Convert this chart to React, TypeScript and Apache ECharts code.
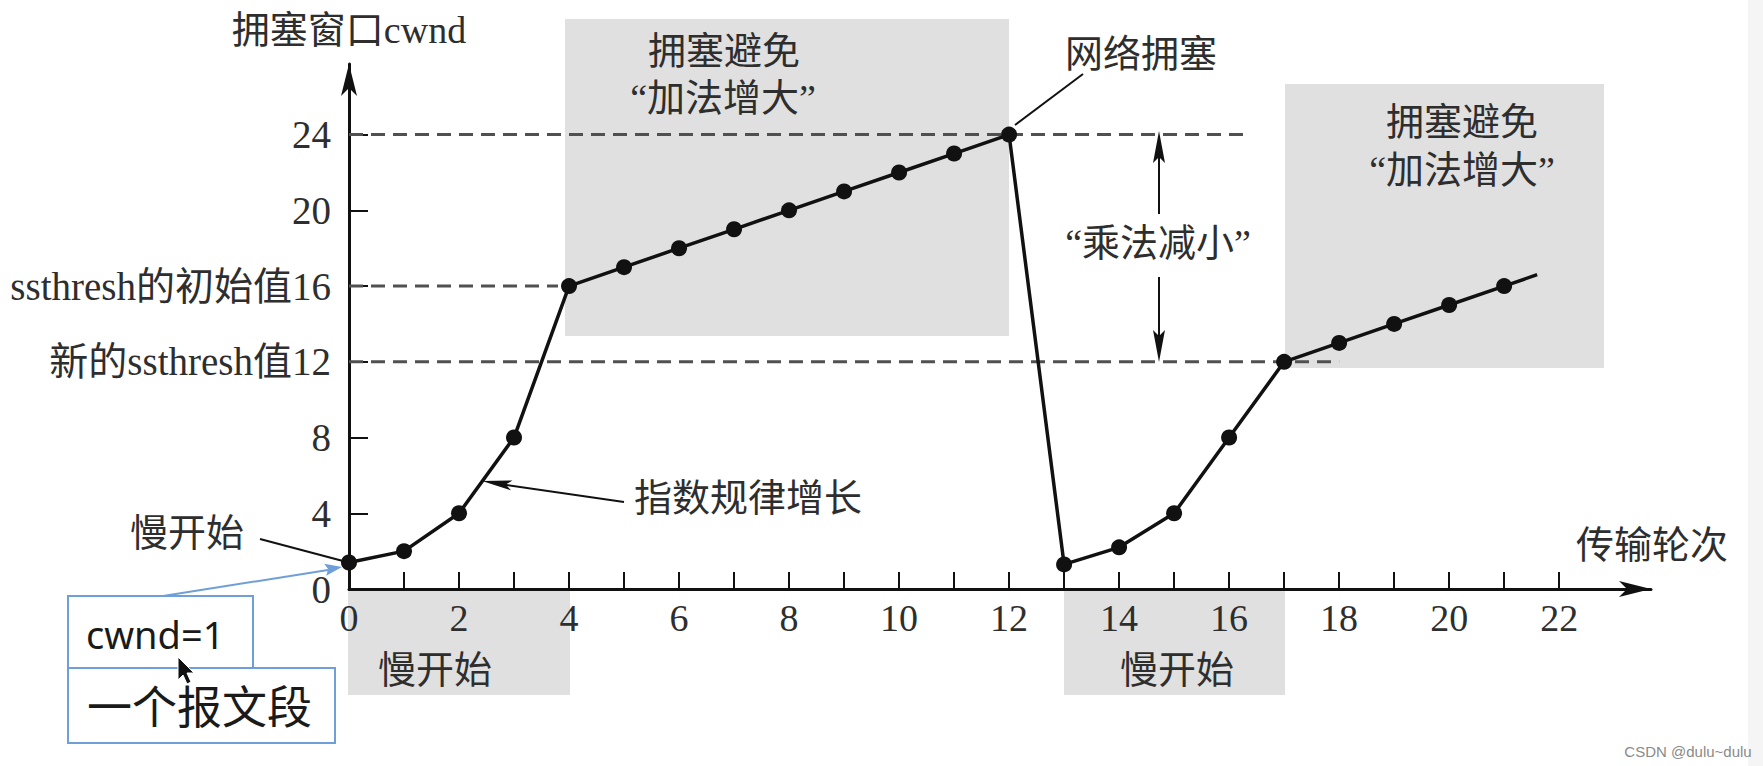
import React, { useEffect, useRef } from 'react';
import * as echarts from 'echarts';

// ---- data ----
const rounds = [0, 1, 2, 3, 4, 5, 6, 7, 8, 9, 10, 11, 12, 13, 14, 15, 16, 17, 18, 19, 20, 21];
const cwnd = [1.4, 2, 4, 8, 16, 17, 18, 19, 20, 21, 22, 23, 24, 1.3, 2.2, 4, 8, 12, 13, 14, 15, 16];
const tailRound = 21.6;
const tailCwnd = 16.6;

const xTickValues = [0, 1, 2, 3, 4, 5, 6, 7, 8, 9, 10, 11, 12, 13, 14, 15, 16, 17, 18, 19, 20, 21, 22];
const xLabelValues = [0, 2, 4, 6, 8, 10, 12, 14, 16, 18, 20, 22];
const yTickValues = [4, 8, 12, 16, 20, 24];
const yLabelValues = [0, 4, 8, 12, 16, 20, 24];
const yLabelTexts = ['0', '4', '8', '新的ssthresh值12', 'ssthresh的初始值16', '20', '24'];

const refLevels = [24, 16, 12];
const refEnds = [16.3, 3.8, 18];

// ---- styles ----
const FONT = "'Liberation Serif', 'Noto Sans CJK SC', serif";
const TEXT = '#2e2e2e';
const BOX = '#e0e0e0';
const BLUE = '#6f9fd8';

function arrowHead(tip: number[], from: number[], len: number, half: number, notch: number) {
  const dx = from[0] - tip[0];
  const dy = from[1] - tip[1];
  const d = Math.hypot(dx, dy);
  const ux = dx / d, uy = dy / d;
  const bx = tip[0] + ux * len, by = tip[1] + uy * len;
  const px = -uy * half, py = ux * half;
  const nx = tip[0] + ux * (len - notch), ny = tip[1] + uy * (len - notch);
  return [[tip[0], tip[1]], [bx + px, by + py], [nx, ny], [bx - px, by - py]];
}

function txt(text: string, x: number, y: number, size = 38, extra: any = {}) {
  return {
    type: 'text',
    x,
    y,
    z: 10,
    silent: true,
    style: {
      text,
      fontSize: size,
      fontFamily: FONT,
      fill: TEXT,
      align: 'center',
      verticalAlign: 'middle',
      ...extra,
    },
  };
}

function ln(x1: number, y1: number, x2: number, y2: number, stroke = '#111', w = 2) {
  return { type: 'line', z: 10, silent: true, shape: { x1, y1, x2, y2 }, style: { stroke, lineWidth: w } };
}

function poly(points: number[][], fill = '#111') {
  return { type: 'polygon', z: 10, silent: true, shape: { points }, style: { fill } };
}

export default function App() {
  const ref = useRef<HTMLDivElement>(null);

  useEffect(() => {
    if (!ref.current) return;
    const chart = echarts.init(ref.current, null, { renderer: 'svg' });

    const mainData: any[] = rounds.map((r, i) => [r, cwnd[i]]);
    mainData.push({ value: [tailRound, tailCwnd], symbol: 'none' });

    const refSeries = refLevels.map((lvl, i) => ({
      type: 'line',
      data: [[0, lvl], [refEnds[i], lvl]],
      symbol: 'none',
      silent: true,
      z: 1,
      lineStyle: { color: '#505050', width: 3, type: [14, 8] },
    }));

    const graphics: any[] = [
      // right screenshot edge
      { type: 'rect', z: -2, silent: true, shape: { x: 1748, y: 0, width: 15, height: 766 }, style: { fill: '#f5f5f5' } },
      // phase boxes
      { type: 'rect', z: -1, silent: true, shape: { x: 565, y: 19, width: 444, height: 317 }, style: { fill: BOX } },
      { type: 'rect', z: -1, silent: true, shape: { x: 348, y: 590, width: 222, height: 105 }, style: { fill: BOX } },
      { type: 'rect', z: -1, silent: true, shape: { x: 1064, y: 590, width: 221, height: 105 }, style: { fill: BOX } },
      { type: 'rect', z: -1, silent: true, shape: { x: 1285, y: 84, width: 319, height: 284 }, style: { fill: BOX } },

      // x axis name
      txt('传输轮次', 1652, 545),

      // box texts
      txt('拥塞避免', 724, 51),
      txt('“加法增大”', 723, 98),
      txt('拥塞避免', 1462, 122),
      txt('“加法增大”', 1462, 170),
      txt('慢开始', 435, 670),
      txt('慢开始', 1177, 670),

      // network congestion
      txt('网络拥塞', 1141, 54),
      ln(1015, 125, 1083, 74),

      // multiplicative decrease
      txt('“乘法减小”', 1158, 243),
      ln(1159, 150, 1159, 214),
      ln(1159, 277, 1159, 345),
      poly(arrowHead([1159, 131], [1159, 200], 32, 6, 6)),
      poly(arrowHead([1159, 362], [1159, 300], 32, 6, 6)),

      // exponential growth
      txt('指数规律增长', 748, 498),
      ln(624, 502, 500, 484),
      poly(arrowHead([482, 481], [624, 502], 30, 5, 6)),

      // slow start annotation
      txt('慢开始', 187, 533),
      ln(260, 539, 343, 561),

      // blue callout
      { type: 'rect', z: 9, silent: true, shape: { x: 68, y: 596, width: 185, height: 72 }, style: { fill: '#fff', stroke: BLUE, lineWidth: 2 } },
      { type: 'rect', z: 9, silent: true, shape: { x: 68, y: 668, width: 267, height: 75 }, style: { fill: '#fff', stroke: BLUE, lineWidth: 2 } },
      txt('cwnd=1', 86, 634, 38, { align: 'left', fontFamily: "'Noto Sans', sans-serif", fill: '#1a1a1a' }),
      txt('一个报文段', 87, 704, 45, { align: 'left', fontFamily: "'Noto Sans CJK SC', sans-serif", fill: '#1a1a1a' }),
      ln(163, 596, 328, 570, BLUE, 2),
      poly(arrowHead([342, 567], [163, 596], 17, 6, 3), BLUE),

      // mouse cursor
      {
        type: 'polygon', z: 12, silent: true,
        shape: { points: [[178, 657], [178, 680], [183, 675], [187, 684], [191, 682], [187, 673], [194, 673]] },
        style: { fill: '#111', stroke: '#fff', lineWidth: 1 },
      },

      // watermark
      txt('CSDN @dulu~dulu', 1688, 751, 15, { fontFamily: "'Liberation Sans', sans-serif", fill: '#8a8a8a' }),
    ];

    chart.setOption({
      animation: false,
      backgroundColor: '#fff',
      grid: { left: 349, top: 64, width: 1302, height: 525, containLabel: false, outerBoundsMode: 'none' },
      xAxis: {
        type: 'value',
        min: 0,
        max: 23.67,
        axisLine: {
          show: true, onZero: false,
          symbol: ['none', 'arrow'], symbolSize: [12, 32],
          lineStyle: { color: '#111', width: 3 },
        },
        axisTick: { show: true, inside: true, length: 17, customValues: xTickValues, lineStyle: { color: '#111', width: 2 } },
        axisLabel: { show: true, customValues: xLabelValues, fontSize: 38, fontFamily: FONT, color: TEXT, margin: 10 },
        splitLine: { show: false },
      },
      yAxis: {
        type: 'value',
        min: 0,
        max: 27.73,
        name: '拥塞窗口cwnd',
        nameLocation: 'end',
        nameGap: 34,
        nameTextStyle: { fontSize: 38, fontFamily: FONT, color: TEXT, align: 'center', verticalAlign: 'middle' },
        axisLine: {
          show: true, onZero: false,
          symbol: ['none', 'arrow'], symbolSize: [12, 32],
          lineStyle: { color: '#111', width: 3 },
        },
        axisTick: { show: true, inside: true, length: 19, customValues: yTickValues, lineStyle: { color: '#111', width: 2 } },
        axisLabel: {
          show: true,
          customValues: yLabelValues,
          fontSize: 39,
          fontFamily: FONT,
          color: TEXT,
          margin: 18,
          formatter: (v: number) => {
            const i = yLabelValues.indexOf(v);
            return i >= 0 ? yLabelTexts[i] : '';
          },
        },
        splitLine: { show: false },
      },
      series: [
        ...refSeries,
        {
          type: 'line',
          data: mainData,
          symbol: 'circle',
          symbolSize: 16,
          z: 3,
          silent: true,
          itemStyle: { color: '#111' },
          lineStyle: { color: '#111', width: 3.5 },
        },
      ],
      graphic: graphics,
    });

    return () => {
      chart.dispose();
    };
  }, []);

  return (
    <div
      ref={ref}
      style={{ position: 'absolute', left: 0, top: 0, width: 1763, height: 766, background: '#fff' }}
    />
  );
}
